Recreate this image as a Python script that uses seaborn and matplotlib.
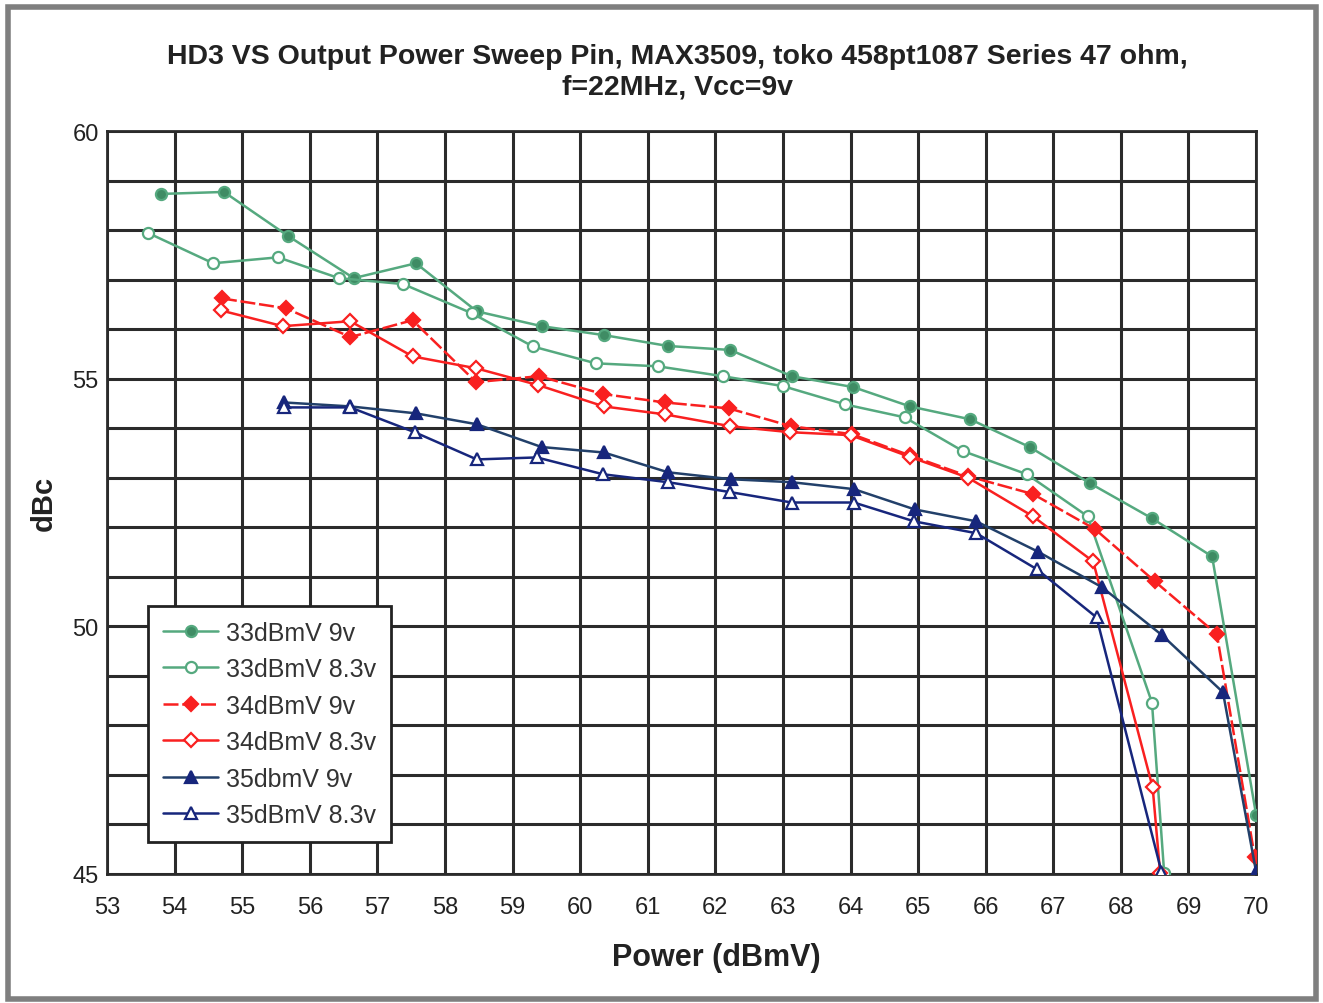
import numpy as np
import pandas as pd
import matplotlib
matplotlib.use('Agg')
import matplotlib.pyplot as plt
from matplotlib.patches import Rectangle
from matplotlib.ticker import MultipleLocator
import seaborn as sns

# values
x_33_9 = [53.80, 54.73, 55.68, 56.65, 57.57, 58.47, 59.43, 60.35, 61.30, 62.22, 63.13, 64.04, 64.88, 65.77, 66.65, 67.54, 68.46, 69.35, 70.00]
y_33_9 = [58.73, 58.77, 57.88, 57.03, 57.33, 56.36, 56.06, 55.88, 55.66, 55.58, 55.05, 54.83, 54.44, 54.18, 53.62, 52.89, 52.18, 51.41, 46.20]

x_33_83 = [53.61, 54.57, 55.53, 56.43, 57.38, 58.40, 59.30, 60.23, 61.15, 62.11, 63.00, 63.92, 64.80, 65.66, 66.61, 67.51, 68.46, 68.64]
y_33_83 = [57.94, 57.33, 57.45, 57.03, 56.91, 56.32, 55.65, 55.31, 55.25, 55.05, 54.85, 54.48, 54.22, 53.54, 53.07, 52.22, 48.46, 45.03]

x_34_9 = [54.70, 55.65, 56.60, 57.52, 58.46, 59.39, 60.34, 61.25, 62.20, 63.12, 64.02, 64.88, 65.74, 66.70, 67.62, 68.50, 69.42, 69.98]
y_34_9 = [56.62, 56.42, 55.84, 56.18, 54.93, 55.05, 54.69, 54.52, 54.40, 54.04, 53.88, 53.45, 53.03, 52.67, 51.96, 50.91, 49.84, 45.35]

x_34_83 = [54.68, 55.60, 56.60, 57.52, 58.46, 59.38, 60.35, 61.25, 62.22, 63.10, 64.00, 64.88, 65.74, 66.70, 67.59, 68.47, 68.58]
y_34_83 = [56.38, 56.06, 56.16, 55.45, 55.21, 54.87, 54.44, 54.28, 54.04, 53.92, 53.86, 53.42, 53.00, 52.22, 51.31, 46.75, 45.03]

x_35_9 = [55.62, 56.60, 57.57, 58.47, 59.43, 60.35, 61.30, 62.23, 63.13, 64.05, 64.95, 65.86, 66.77, 67.72, 68.61, 69.51, 70.00]
y_35_9 = [54.52, 54.44, 54.30, 54.08, 53.62, 53.51, 53.11, 52.97, 52.91, 52.77, 52.36, 52.12, 51.51, 50.79, 49.82, 48.67, 45.05]

x_35_83 = [55.62, 56.60, 57.55, 58.47, 59.36, 60.34, 61.30, 62.22, 63.13, 64.05, 64.94, 65.86, 66.76, 67.64, 68.60]
y_35_83 = [54.42, 54.42, 53.92, 53.37, 53.41, 53.07, 52.91, 52.71, 52.50, 52.50, 52.12, 51.88, 51.15, 50.18, 45.05]

labels = ['33dBmV 9v', '33dBmV 8.3v', '34dBmV 9v', '34dBmV 8.3v', '35dbmV 9v', '35dBmV 8.3v']

green = '#55a97f'
red = '#f92020'
blue = '#17267c'

series = [
    (x_33_9, y_33_9, dict(color=green, marker='o', markerfacecolor='#3f8c64', markeredgecolor=green, linestyle='-')),
    (x_33_83, y_33_83, dict(color=green, marker='o', markerfacecolor='white', markeredgecolor=green, linestyle='-')),
    (x_34_9, y_34_9, dict(color=red, marker='D', markerfacecolor=red, markeredgecolor=red, linestyle=(0, (6, 1.5)))),
    (x_34_83, y_34_83, dict(color=red, marker='D', markerfacecolor='white', markeredgecolor=red, linestyle='-')),
    (x_35_9, y_35_9, dict(color='#22406a', marker='^', markerfacecolor=blue, markeredgecolor=blue, linestyle='-')),
    (x_35_83, y_35_83, dict(color=blue, marker='^', markerfacecolor='white', markeredgecolor=blue, linestyle='-')),
]

sns.set_style('white')
plt.rcParams['font.family'] = ['Liberation Sans', 'DejaVu Sans']

fig = plt.figure(figsize=(13.23, 10.04), dpi=100)
ax = fig.add_axes([0.0809, 0.1285, 0.8685, 0.74])

for (xs, ys, st), lab in zip(series, labels):
    df = pd.DataFrame({'x': xs, 'y': ys})
    ms = 8 if st['marker'] != 'D' else 7
    sns.lineplot(data=df, x='x', y='y', ax=ax, sort=False, estimator=None,
                 label=lab, linewidth=1.8, markersize=ms, markeredgewidth=1.6, zorder=3, **st)

ax.set_xlim(53, 70)
ax.set_ylim(45, 60)
ax.xaxis.set_major_locator(MultipleLocator(1))
ax.xaxis.set_minor_locator(MultipleLocator(0.5))
ax.yaxis.set_major_locator(MultipleLocator(5))
ax.yaxis.set_minor_locator(MultipleLocator(1))
ax.grid(True, which='major', axis='x', color='#2b2b2b', linewidth=2.2)
ax.grid(True, which='both', axis='y', color='#2b2b2b', linewidth=2.2)
for s in ax.spines.values():
    s.set_color('#2b2b2b')
    s.set_linewidth(2)
ax.tick_params(axis='both', which='major', direction='inout', length=8, width=1.5, color='#333333',
               labelsize=17, labelcolor='#222222')
ax.tick_params(axis='x', which='major', pad=12)
ax.tick_params(axis='y', which='major', pad=2)
ax.tick_params(axis='x', which='minor', direction='in', length=4, width=1.5, color='#333333')
ax.tick_params(axis='y', which='minor', length=0)
ax.set_axisbelow(True)

ax.set_xlabel('Power (dBmV)', fontsize=22, fontweight='bold', color='#222222')
ax.set_ylabel('dBc', fontsize=21, fontweight='bold', color='#222222')
ax.xaxis.set_label_coords(0.53, -0.091)
ax.yaxis.set_label_coords(-0.043, 0.5)

fig.text(0.512, 0.928, 'HD3 VS Output Power Sweep Pin, MAX3509, toko 458pt1087 Series 47 ohm,\nf=22MHz, Vcc=9v',
         ha='center', va='center', fontsize=20.5, fontweight='bold', color='#222222', linespacing=1.25,
         family=['Liberation Sans Narrow', 'Liberation Sans', 'DejaVu Sans'])

leg = ax.legend(loc='lower left', bbox_to_anchor=(0.0357, 0.043), borderaxespad=0, fontsize=18,
                frameon=True, fancybox=False, edgecolor='#222222', framealpha=1,
                handlelength=2.2, labelspacing=0.5, borderpad=0.6, handletextpad=0.3)
leg.get_frame().set_linewidth(2)
for t in leg.get_texts():
    t.set_color('#333333')

fig.patches.append(Rectangle((0.006, 0.004), 0.989, 0.988, transform=fig.transFigure,
                             fill=False, edgecolor='#7f7f7f', linewidth=4))

fig.savefig('out.png', dpi=100)
